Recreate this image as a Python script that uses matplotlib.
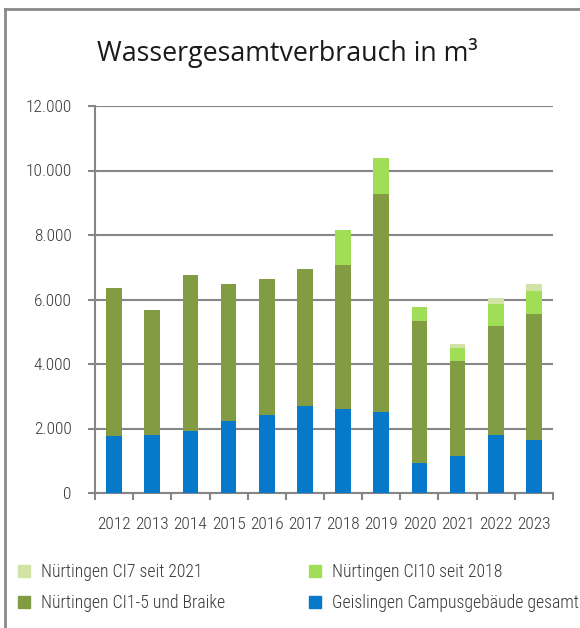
import matplotlib
matplotlib.use("Agg")
import matplotlib.pyplot as plt
import numpy as np
from matplotlib.ticker import FuncFormatter, FixedLocator
from matplotlib.lines import Line2D
from matplotlib.patches import Patch

years = ["2012", "2013", "2014", "2015", "2016", "2017", "2018", "2019", "2020", "2021", "2022", "2023"]
geislingen = [1760, 1790, 1920, 2230, 2430, 2710, 2590, 2510, 920, 1140, 1790, 1640]
ci1_5 = [4600, 3880, 4830, 4250, 4200, 4250, 4470, 6770, 4420, 2960, 3400, 3900]
ci10 = [0, 0, 0, 0, 0, 0, 1090, 1110, 430, 400, 670, 720]
ci7 = [0, 0, 0, 0, 0, 0, 0, 0, 0, 120, 190, 220]

series_names = ["Geislingen Campusgebäude gesamt", "Nürtingen CI1-5 und Braike",
                "Nürtingen CI10 seit 2018", "Nürtingen CI7 seit 2021"]
colors = ["#0779CA", "#829C44", "#A0DE58", "#D2E3A6"]

narrow = ["Roboto Condensed", "DejaVu Sans"]

fig = plt.figure(figsize=(5.8, 6.28), dpi=100)
ax = fig.add_axes([95/580, 1-493/628, 458/580, 387/628])

x = np.arange(len(years))
bottom = np.zeros(len(years))
for vals, c in zip([geislingen, ci1_5, ci10, ci7], colors):
    ax.bar(x, vals, width=0.41, bottom=bottom, color=c, zorder=3)
    bottom += np.array(vals)

ax.set_xlim(-0.5, len(years) - 0.5)
ax.set_ylim(0, 12000)
ax.set_yticks(np.arange(0, 12001, 2000))
ax.yaxis.set_major_formatter(FuncFormatter(lambda v, p: f"{int(v):,}".replace(",", ".")))
ax.grid(axis="y", color="#868686", linewidth=1.5, zorder=1)
ax.set_xticks(x)
ax.set_xticklabels(years)
ax.xaxis.set_minor_locator(FixedLocator(np.arange(-0.5, len(years), 1.0)))
ax.tick_params(axis="x", which="major", length=0, pad=17.5, labelsize=12.5, labelcolor="#383838")
ax.tick_params(axis="x", which="minor", length=5, width=1.5, color="#868686", direction="out")
ax.tick_params(axis="y", length=5, width=1.5, color="#868686", pad=12, labelsize=12.5, labelcolor="#383838")
for lab in ax.get_xticklabels() + ax.get_yticklabels():
    lab.set_family(narrow)
    lab.set_weight(300)
for s in ["top", "right"]:
    ax.spines[s].set_visible(False)
for s in ["left", "bottom"]:
    ax.spines[s].set_color("#868686")
    ax.spines[s].set_linewidth(1.5)

fig.text(287/580, 1-53/628, "Wassergesamtverbrauch in m³", ha="center", va="center",
         fontsize=19.3, family=["Open Sans", "DejaVu Sans"], color="#1a1a1a")

# frame
fig.add_artist(Line2D([4.5/580, 4.5/580], [0, 1-9/628], color="#8a8a8a", linewidth=2, transform=fig.transFigure))
fig.add_artist(Line2D([4.5/580, 1], [1-9/628, 1-9/628], color="#8a8a8a", linewidth=2, transform=fig.transFigure))

handles = [Patch(color=colors[3]), Patch(color=colors[1]), Patch(color=colors[2]), Patch(color=colors[0])]
labels = [series_names[3], series_names[1], series_names[2], series_names[0]]
leg = fig.legend(handles, labels, ncol=2, loc="upper left", bbox_to_anchor=(18/580, 1-563/628),
                 frameon=False, prop={"family": narrow, "size": 12.8, "weight": 300}, labelcolor="#383838",
                 handlelength=0.7, handleheight=0.7, handletextpad=0.6, columnspacing=4.7,
                 labelspacing=0.75, borderpad=0, borderaxespad=0)

fig.savefig("out.png", dpi=100)
